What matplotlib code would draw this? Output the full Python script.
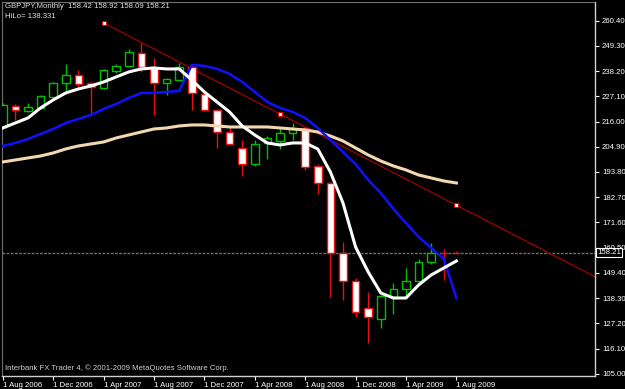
import matplotlib
matplotlib.use('Agg')
import matplotlib.pyplot as plt

# GBPJPY monthly, Aug 2006 .. Aug 2009
opens = [213.6, 222.98, 220.65, 221.97, 226.81, 232.97, 236.49, 232.97, 230.77, 238.26,
         240.46, 246.18, 239.58, 232.97, 234.29, 240.02, 228.13, 221.09, 211.40, 204.36,
         197.32, 206.56, 207.44, 210.96, 213.16, 196.44, 188.95, 158.14, 145.81, 133.93,
         129.09, 138.77, 142.29, 145.81, 154.18, 158.14, 158.42]
highs = [224.17, 223.73, 224.17, 227.69, 233.41, 241.34, 238.70, 233.41, 239.14, 241.34,
         247.94, 250.58, 243.98, 235.17, 241.78, 241.34, 229.89, 221.53, 213.60, 207.88,
         207.88, 209.64, 213.60, 215.36, 213.60, 197.32, 189.39, 163.00, 147.13, 140.97,
         139.65, 144.93, 151.54, 155.50, 162.54, 159.90, 158.92]
lows = [213.16, 216.69, 220.21, 221.53, 226.37, 228.57, 231.21, 219.77, 230.33, 237.38,
        240.02, 237.82, 218.89, 227.69, 233.85, 221.09, 220.65, 204.36, 205.68, 192.03,
        196.44, 199.52, 203.92, 207.88, 194.68, 184.11, 138.77, 137.45, 129.97, 118.52,
        125.12, 131.29, 138.77, 144.05, 153.30, 146.25, 158.09]
closes = [223.29, 220.96, 222.41, 227.25, 232.97, 236.49, 232.53, 231.21, 238.70, 240.46,
          246.62, 240.02, 232.97, 234.73, 240.02, 228.57, 221.09, 211.40, 206.12, 197.32,
          206.12, 208.76, 210.96, 212.72, 195.98, 188.95, 158.14, 145.81, 132.17, 129.97,
          139.21, 142.29, 145.81, 154.18, 158.14, 157.92, 158.21]

white_ma = [213.16, 215.36, 217.57, 221.97, 225.49, 228.57, 230.33, 231.65, 233.41, 235.61,
            237.82, 239.14, 239.58, 239.14, 239.14, 234.29, 229.01, 224.61, 220.21, 214.05,
            210.08, 206.56, 205.68, 206.56, 206.56, 203.92, 193.79, 180.15, 160.78, 149.78,
            140.53, 138.33, 138.33, 144.05, 148.46, 151.54, 154.62]
blue_ma = [205.24, 206.56, 208.32, 210.52, 212.72, 215.36, 217.13, 218.89, 221.53, 223.73,
           226.37, 228.57, 228.57, 229.01, 229.45, 240.90, 240.46, 239.14, 236.94, 233.41,
           229.01, 224.61, 221.97, 220.21, 217.57, 213.16, 207.88, 202.60, 197.32, 190.27,
           184.55, 177.51, 171.35, 165.18, 160.35, 155.50, 138.33]
beige_ma = [198.20, 199.08, 199.96, 200.84, 202.16, 203.92, 205.24, 206.12, 207.00, 208.76,
            210.08, 211.40, 212.72, 213.16, 214.05, 214.49, 214.49, 214.05, 213.60, 213.60,
            213.60, 213.60, 213.16, 212.72, 212.28, 211.40, 209.64, 207.44, 204.36, 201.28,
            198.64, 196.44, 194.68, 192.48, 191.16, 189.83, 188.95]

trend_idx = [8, 36]
trend_price = [259.4, 179.2]

bid = 158.21
price_ticks = [260.40, 249.30, 238.20, 227.10, 216.00, 204.90, 193.80, 182.70,
               171.60, 160.50, 149.40, 138.30, 127.20, 116.10, 105.00]
date_labels = ['1 Aug 2006', '1 Dec 2006', '1 Apr 2007', '1 Aug 2007', '1 Dec 2007',
               '1 Apr 2008', '1 Aug 2008', '1 Dec 2008', '1 Apr 2009', '1 Aug 2009']

plt.rcParams['font.family'] = ['Liberation Sans', 'DejaVu Sans']

fig = plt.figure(figsize=(6.25, 3.89), dpi=100, facecolor='black')
ax = fig.add_axes([2 / 625, 13 / 389, 593 / 625, 374 / 389], facecolor='black')

n = len(opens)
idx = list(range(n))

# bid line
ax.axhline(bid, color='#707070', lw=1, ls=(0, (2, 1)), zorder=1)

# trend line (ray to the right)
slope = (trend_price[1] - trend_price[0]) / (trend_idx[1] - trend_idx[0])
x_end = 47.5
ax.plot([trend_idx[0], x_end], [trend_price[0], trend_price[0] + slope * (x_end - trend_idx[0])],
        color='#B00000', lw=0.8, zorder=2)
mid = (trend_idx[0] + trend_idx[1]) / 2
ax.plot([trend_idx[0], mid, trend_idx[1]],
        [trend_price[0], trend_price[0] + slope * (mid - trend_idx[0]), trend_price[1]],
        ls='none', marker='s', ms=3.5, mfc='white', mec='#E00000', mew=0.8, zorder=6)

# candles
for i in idx:
    o, h, l, c = opens[i], highs[i], lows[i], closes[i]
    col = '#00C000' if c > o else '#E81010'
    ax.vlines(i, l, h, color=col, lw=1, zorder=3)
    body = abs(c - o)
    if body < 0.4:
        ax.hlines((o + c) / 2, i - 0.3, i + 0.3, color=col, lw=1, zorder=4)
    else:
        ax.bar(i, body, bottom=min(o, c), width=0.6,
               color='black' if c > o else 'white', edgecolor=col, lw=1, zorder=4)

# indicator lines
ax.plot(idx, beige_ma, color='#F2D8B0', lw=2.2, zorder=5)
ax.plot(idx, blue_ma, color='#1010FF', lw=1.8, zorder=5)
ax.plot(idx, white_ma, color='white', lw=2.2, zorder=5)

ax.set_xlim(-0.06, 47.0)
ax.set_ylim(104.0, 268.6)

ax.yaxis.tick_right()
ax.set_yticks(price_ticks)
ax.set_yticklabels(['%.2f' % p for p in price_ticks])
ax.set_xticks(idx[::4])
ax.set_xticklabels(date_labels, ha='left')
ax.tick_params(axis='both', colors='white', labelcolor='white', labelsize=5.6,
               length=3, width=0.8, direction='out')
ax.tick_params(axis='x', pad=1)
ax.tick_params(axis='y', pad=2)

for s in ['top', 'left']:
    ax.spines[s].set_color('#707070')
    ax.spines[s].set_linestyle((0, (2, 1)))
for s in ['right', 'bottom']:
    ax.spines[s].set_color('#D0D0D0')
    ax.spines[s].set_linewidth(1)

# bid price box
ax.text(1.004, bid, '%.2f' % bid, transform=ax.get_yaxis_transform(), fontsize=5.6,
        color='white', va='center', ha='left', zorder=10, clip_on=False,
        bbox=dict(boxstyle='square,pad=0.15', fc='black', ec='white', lw=0.8))

fig.text(5 / 625, 1 - 7 / 389, 'GBPJPY,Monthly  158.42 158.92 158.09 158.21',
         color='#E0E0E0', fontsize=5.6, va='center', ha='left')
fig.text(5 / 625, 1 - 16 / 389, 'HiLo= 138.331', color='#E0E0E0', fontsize=5.6,
         va='center', ha='left')
fig.text(5 / 625, 1 - 368 / 389,
         'Interbank FX Trader 4, \u00a9 2001-2009 MetaQuotes Software Corp.',
         color='#D0D0D0', fontsize=5.6, va='center', ha='left')

fig.savefig('out.png', dpi=100, facecolor='black')
